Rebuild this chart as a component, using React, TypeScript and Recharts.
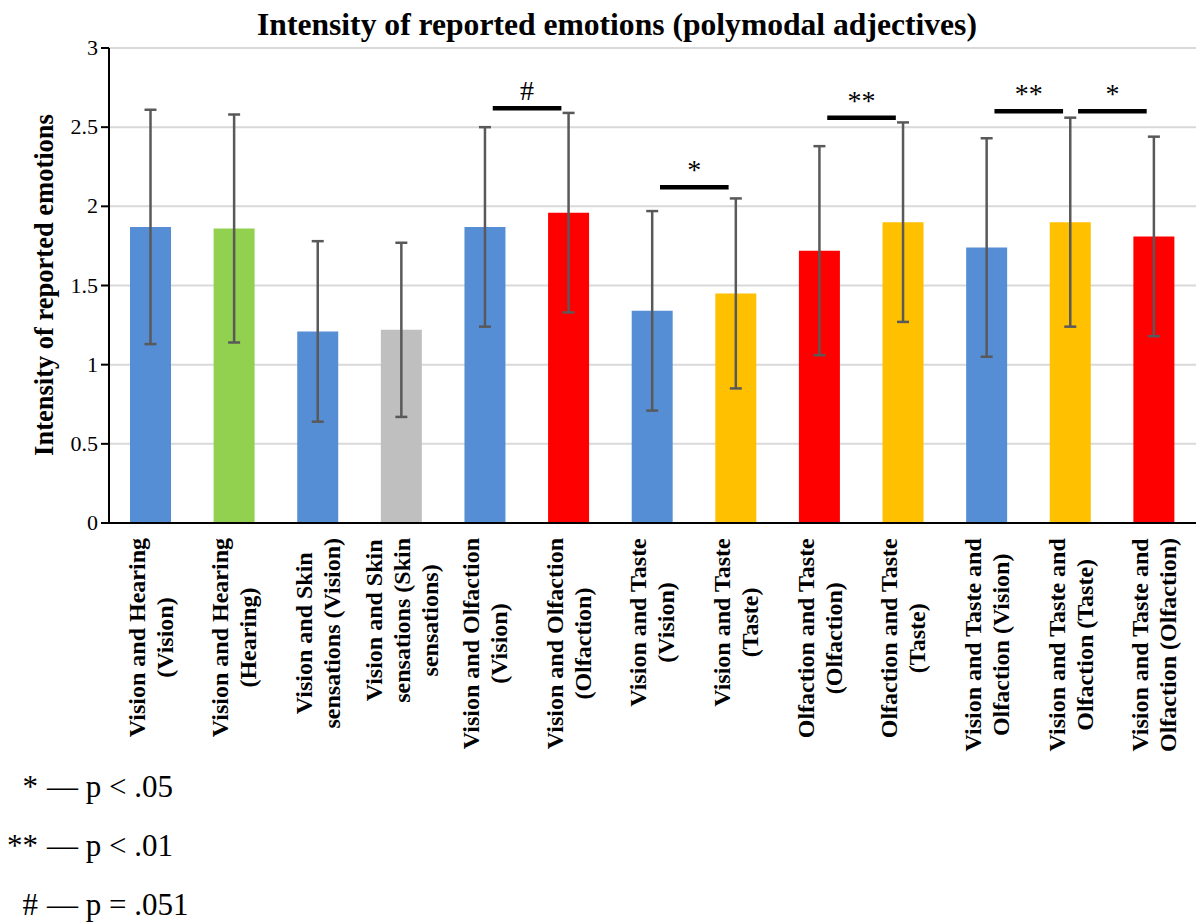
import React from 'react';
import { BarChart, Bar, XAxis, YAxis, CartesianGrid, ErrorBar, Cell, ReferenceLine } from 'recharts';

const categories = [
    'Vision and Hearing\n(Vision)',
    'Vision and Hearing\n(Hearing)',
    'Vision and Skin\nsensations (Vision)',
    'Vision and Skin\nsensations (Skin\nsensations)',
    'Vision and Olfaction\n(Vision)',
    'Vision and Olfaction\n(Olfaction)',
    'Vision and Taste\n(Vision)',
    'Vision and Taste\n(Taste)',
    'Olfaction and Taste\n(Olfaction)',
    'Olfaction and Taste\n(Taste)',
    'Vision and Taste and\nOlfaction (Vision)',
    'Vision and Taste and\nOlfaction (Taste)',
    'Vision and Taste and\nOlfaction (Olfaction)',
];
const means = [1.87, 1.86, 1.21, 1.22, 1.87, 1.96, 1.34, 1.45, 1.72, 1.9, 1.74, 1.9, 1.81];
const sds = [0.74, 0.72, 0.57, 0.55, 0.63, 0.63, 0.63, 0.6, 0.66, 0.63, 0.69, 0.66, 0.63];
const barColors = [
    '#558ED5', '#92D050', '#558ED5', '#BFBFBF', '#558ED5', '#FF0000', '#558ED5',
    '#FFC000', '#FF0000', '#FFC000', '#558ED5', '#FFC000', '#FF0000',
];
const yTicks = [0, 0.5, 1, 1.5, 2, 2.5, 3];

// significance brackets
const sigFrom = [4, 6, 8, 10, 11];
const sigTo = [5, 7, 9, 11, 12];
const sigLevel = [2.62, 2.12, 2.56, 2.6, 2.6];
const sigMark = ['#', '*', '**', '**', '*'];

const legendMarks = ['*', '**', '#'];
const legendTexts = ['p < .05', 'p < .01', 'p = .051'];

const data = categories.map((name, i) => ({ name, mean: means[i], sd: sds[i] }));

const SERIF = '"Liberation Serif", "Times New Roman", serif';
const LABEL_FONT_SIZE = 24;

let ctx: CanvasRenderingContext2D | null = null;
const textWidth = (s: string) => {
    if (!ctx) ctx = document.createElement('canvas').getContext('2d');
    if (!ctx) return s.length * 11;
    ctx.font = `bold ${LABEL_FONT_SIZE}px "Liberation Serif"`;
    return ctx.measureText(s).width;
};

const CategoryTick = (props: any) => {
    const { x, y, payload } = props;
    const lines: string[] = String(payload.value).split('\n');
    const maxW = Math.max(...lines.map(textWidth));
    const cy = y + 7 + maxW / 2;
    const step = 28;
    return (
        <g>
            {lines.map((line, i) => {
                const bx = x - ((lines.length - 1) * step) / 2 + i * step + 8;
                return (
                    <text
                        key={i}
                        x={bx}
                        y={cy}
                        transform={`rotate(-90 ${bx} ${cy})`}
                        textAnchor="middle"
                        fontFamily={SERIF}
                        fontWeight="bold"
                        fontSize={LABEL_FONT_SIZE}
                        fill="#000"
                    >
                        {line}
                    </text>
                );
            })}
        </g>
    );
};

const ValueTick = (props: any) => {
    const { x, y, payload } = props;
    return (
        <text x={x - 1} y={y + 7} textAnchor="end" fontFamily={SERIF} fontSize={22} fill="#000">
            {payload.value}
        </text>
    );
};

const bracketShape = (mark: string) => (p: any) => {
    const { x1, x2, y1 } = p;
    const left = Math.min(x1, x2) + 7.5;
    const right = Math.max(x1, x2) - 7.5;
    return (
        <g>
            <line x1={left} y1={y1} x2={right} y2={y1} stroke="#000" strokeWidth={4.5} />
            <text
                x={(left + right) / 2}
                y={y1 - 8}
                textAnchor="middle"
                fontFamily={SERIF}
                fontSize={28}
                fill="#000"
            >
                {mark}
            </text>
        </g>
    );
};

export default function App() {
    return (
        <div style={{ position: 'relative', width: 1199, height: 922, background: '#fff' }}>
            <style>{`body{margin:0}`}</style>
            <BarChart
                width={1199}
                height={922}
                data={data}
                margin={{ top: 48, right: 3, left: 0, bottom: 0 }}
            >
                <CartesianGrid vertical={false} stroke="#D9D9D9" strokeWidth={2} />
                <XAxis
                    dataKey="name"
                    interval={0}
                    height={399}
                    tickLine={false}
                    axisLine={{ stroke: '#000', strokeWidth: 2 }}
                    tick={<CategoryTick />}
                />
                <YAxis
                    width={109}
                    domain={[0, 3]}
                    ticks={yTicks}
                    interval={0}
                    tickSize={8}
                    tickLine={{ stroke: '#000', strokeWidth: 2 }}
                    axisLine={{ stroke: '#000', strokeWidth: 2 }}
                    tick={<ValueTick />}
                />
                <Bar dataKey="mean" barSize={41} isAnimationActive={false}>
                    {data.map((d, i) => (
                        <Cell key={d.name} fill={barColors[i]} />
                    ))}
                    <ErrorBar
                        dataKey="sd"
                        width={6}
                        stroke="#595959"
                        strokeWidth={2.5}
                        isAnimationActive={false}
                    />
                </Bar>
                {sigFrom.map((from, i) => (
                    <ReferenceLine
                        key={i}
                        segment={[
                            { x: categories[from], y: sigLevel[i] },
                            { x: categories[sigTo[i]], y: sigLevel[i] },
                        ]}
                        ifOverflow="visible"
                        shape={bracketShape(sigMark[i])}
                    />
                ))}
            </BarChart>
            <svg
                width={1199}
                height={922}
                style={{ position: 'absolute', left: 0, top: 0, pointerEvents: 'none' }}
            >
                <text
                    x={617}
                    y={35}
                    textAnchor="middle"
                    fontFamily={SERIF}
                    fontWeight="bold"
                    fontSize={31.6}
                    fill="#000"
                >
                    Intensity of reported emotions (polymodal adjectives)
                </text>
                <text
                    x={53}
                    y={285}
                    transform="rotate(-90 53 285)"
                    textAnchor="middle"
                    fontFamily={SERIF}
                    fontWeight="bold"
                    fontSize={26.5}
                    fill="#000"
                >
                    Intensity of reported emotions
                </text>
                {legendMarks.map((m, i) => (
                    <g key={m} fontFamily={SERIF} fontSize={31} fill="#000">
                        <text x={38} y={797 + i * 59} textAnchor="end">
                            {m}
                        </text>
                        <text x={47} y={797 + i * 59}>
                            {'\u2014 ' + legendTexts[i]}
                        </text>
                    </g>
                ))}
            </svg>
        </div>
    );
}
